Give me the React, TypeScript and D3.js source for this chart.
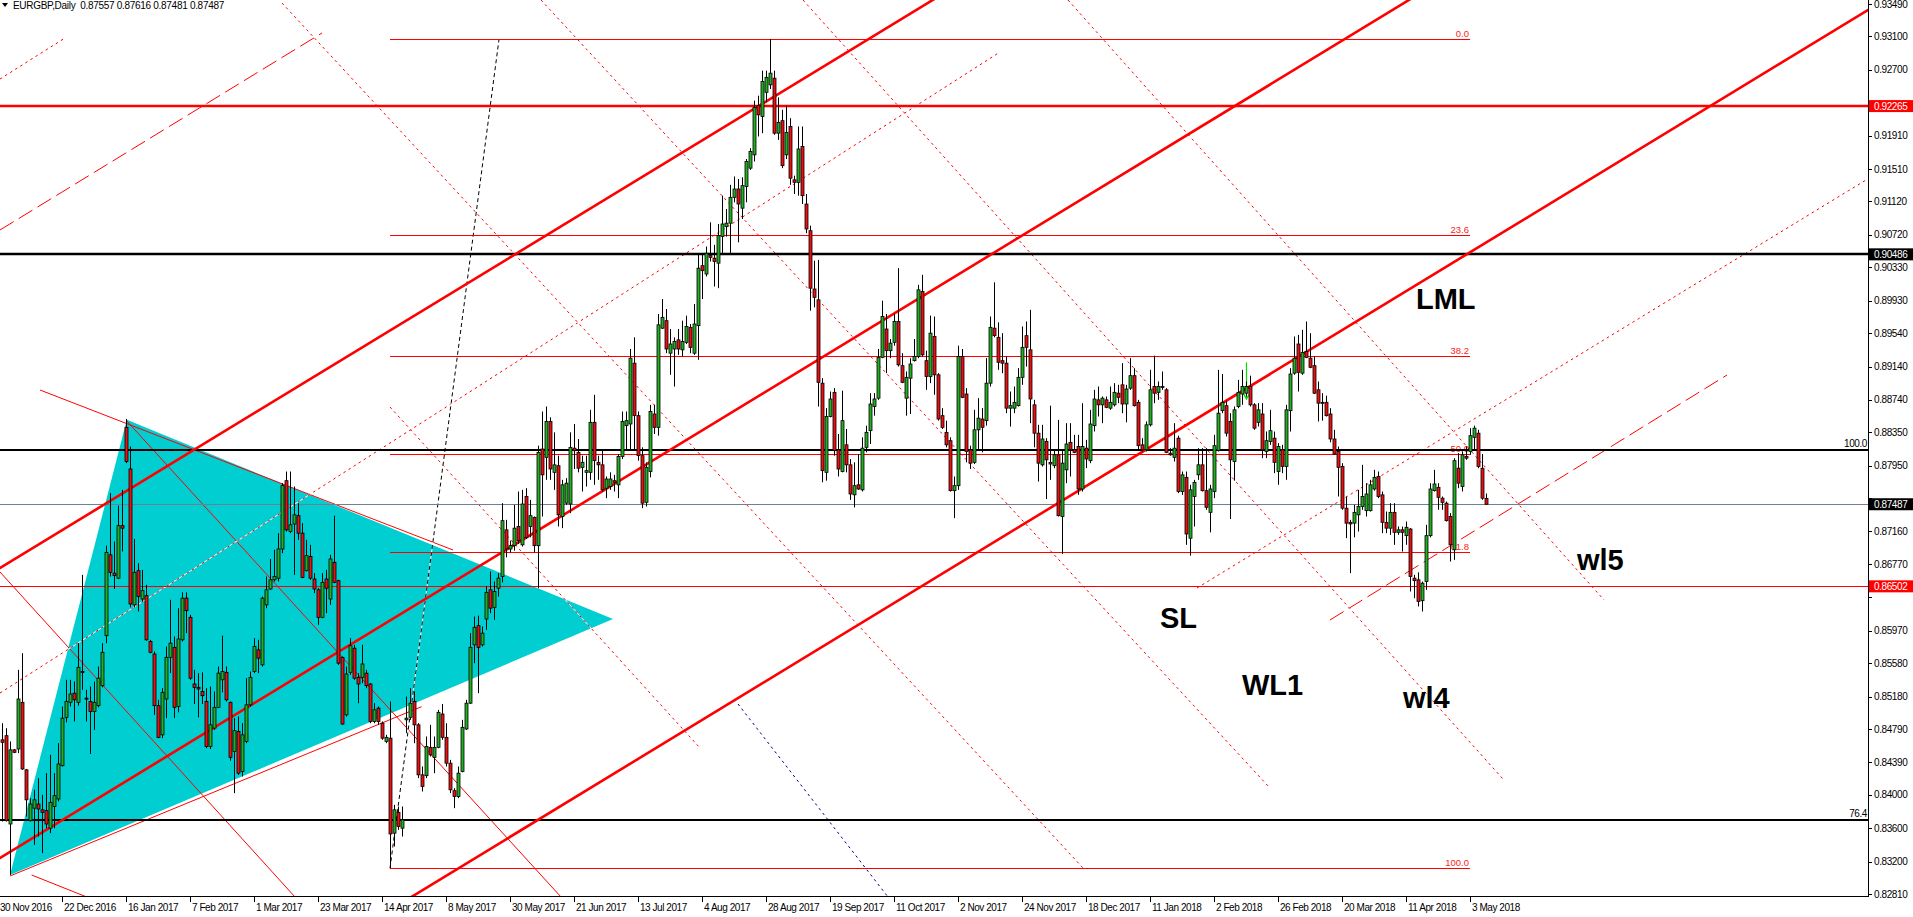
import React from 'react';
import * as d3 from 'd3';

// EURGBP daily bars, bar 0 = 30 Nov 2016 (just off the left edge), so the arrays start at bar 1
const firstBar = 1;

const opens = [
  0.8466, 0.8471, 0.8365, 0.8454, 0.8455, 0.8511, 0.8430, 0.8369, 0.8384, 0.8389,
  0.8382, 0.8381, 0.8360, 0.8386, 0.8395, 0.8435, 0.8493, 0.8511, 0.8522, 0.8511,
  0.8548, 0.8516, 0.8512, 0.8500, 0.8507, 0.8531, 0.8591, 0.8688, 0.8666, 0.8660,
  0.8723, 0.8841, 0.8791, 0.8628, 0.8669, 0.8635, 0.8639, 0.8584, 0.8569, 0.8507,
  0.8472, 0.8515, 0.8565, 0.8577, 0.8506, 0.8586, 0.8636, 0.8613, 0.8533, 0.8529,
  0.8524, 0.8512, 0.8458, 0.8480, 0.8505, 0.8538, 0.8547, 0.8511, 0.8452, 0.8476,
  0.8428, 0.8464, 0.8508, 0.8548, 0.8574, 0.8556, 0.8628, 0.8647, 0.8658, 0.8660,
  0.8695, 0.8777, 0.8716, 0.8725, 0.8735, 0.8714, 0.8669, 0.8686, 0.8659, 0.8646,
  0.8613, 0.8659, 0.8635, 0.8679, 0.8657, 0.8565, 0.8496, 0.8547, 0.8576, 0.8541,
  0.8541, 0.8546, 0.8533, 0.8488, 0.8504, 0.8486, 0.8464, 0.8468, 0.8354, 0.8379,
  0.8360, 0.8490, 0.8493, 0.8512, 0.8484, 0.8424, 0.8423, 0.8457, 0.8445, 0.8457,
  0.8497, 0.8469, 0.8438, 0.8405, 0.8398, 0.8428, 0.8479, 0.8510, 0.8580, 0.8603,
  0.8580, 0.8611, 0.8646, 0.8625, 0.8648, 0.8662, 0.8718, 0.8695, 0.8699, 0.8722,
  0.8700, 0.8758, 0.8722, 0.8733, 0.8699, 0.8815, 0.8805, 0.8848, 0.8787, 0.8795,
  0.8734, 0.8750, 0.8749, 0.8816, 0.8811, 0.8793, 0.8787, 0.8787, 0.8847, 0.8799,
  0.8796, 0.8768, 0.8770, 0.8777, 0.8772, 0.8806, 0.8843, 0.8845, 0.8918, 0.8855,
  0.8807, 0.8751, 0.8788, 0.8857, 0.8841, 0.8960, 0.8969, 0.8930, 0.8935, 0.8946,
  0.8934, 0.8943, 0.8961, 0.8930, 0.8963, 0.9035, 0.9025, 0.9047, 0.9044, 0.9038,
  0.9070, 0.9082, 0.9086, 0.9117, 0.9127, 0.9104, 0.9130, 0.9152, 0.9168, 0.9227,
  0.9214, 0.9243, 0.9252, 0.9260, 0.9194, 0.9209, 0.9168, 0.9202, 0.9138, 0.9135,
  0.9178, 0.9109, 0.9077, 0.9007, 0.8994, 0.8894, 0.8787, 0.8854, 0.8883, 0.8814,
  0.8788, 0.8820, 0.8796, 0.8760, 0.8772, 0.8766, 0.8817, 0.8837, 0.8866, 0.8876,
  0.8925, 0.8959, 0.8933, 0.8943, 0.8968, 0.8915, 0.8876, 0.8900, 0.8921, 0.8926,
  0.9004, 0.8921, 0.8902, 0.8950, 0.8904, 0.8855, 0.8835, 0.8825, 0.8765, 0.8771,
  0.8926, 0.8881, 0.8814, 0.8799, 0.8838, 0.8851, 0.8849, 0.8894, 0.8960, 0.8949,
  0.8921, 0.8918, 0.8864, 0.8864, 0.8867, 0.8901, 0.8951, 0.8934, 0.8868, 0.8834,
  0.8796, 0.8824, 0.8799, 0.8795, 0.8808, 0.8734, 0.8790, 0.8823, 0.8814, 0.8818,
  0.8767, 0.8816, 0.8801, 0.8843, 0.8874, 0.8868, 0.8874, 0.8864, 0.8868, 0.8882,
  0.8892, 0.8869, 0.8888, 0.8903, 0.8871, 0.8820, 0.8814, 0.8844, 0.8890, 0.8883,
  0.8890, 0.8886, 0.8810, 0.8805, 0.8828, 0.8764, 0.8781, 0.8708, 0.8758, 0.8784,
  0.8796, 0.8765, 0.8739, 0.8764, 0.8813, 0.8861, 0.8867, 0.8848, 0.8800, 0.8866,
  0.8881, 0.8882, 0.8890, 0.8868, 0.8847, 0.8857, 0.8812, 0.8824, 0.8828, 0.8788,
  0.8814, 0.8794, 0.8861, 0.8906, 0.8941, 0.8906, 0.8932, 0.8924, 0.8915, 0.8886,
  0.8871, 0.8871, 0.8857, 0.8827, 0.8812, 0.8794, 0.8744, 0.8727, 0.8726, 0.8736,
  0.8746, 0.8741, 0.8741, 0.8767, 0.8782, 0.8760, 0.8727, 0.8720, 0.8739, 0.8715,
  0.8718, 0.8711, 0.8719, 0.8660, 0.8658, 0.8633, 0.8656, 0.8711, 0.8765, 0.8769,
  0.8756, 0.8750, 0.8734, 0.8694, 0.8792, 0.8770, 0.8806, 0.8812, 0.8829, 0.8834,
  0.8792, 0.87557,
];

const highs = [
  0.8486, 0.8480, 0.8464, 0.8455, 0.8550, 0.8570, 0.8431, 0.8396, 0.8406, 0.8420,
  0.8400, 0.8426, 0.8448, 0.8426, 0.8462, 0.8506, 0.8538, 0.8538, 0.8536, 0.8582,
  0.8664, 0.8526, 0.8530, 0.8536, 0.8554, 0.8582, 0.8699, 0.8762, 0.8704, 0.8747,
  0.8766, 0.8851, 0.8818, 0.8707, 0.8678, 0.8670, 0.8652, 0.8586, 0.8572, 0.8514,
  0.8528, 0.8578, 0.8634, 0.8590, 0.8624, 0.8643, 0.8643, 0.8616, 0.8550, 0.8546,
  0.8547, 0.8528, 0.8530, 0.8524, 0.8554, 0.8591, 0.8554, 0.8512, 0.8492, 0.8494,
  0.8486, 0.8540, 0.8548, 0.8588, 0.8586, 0.8638, 0.8662, 0.8683, 0.8694, 0.8714,
  0.8774, 0.8788, 0.8788, 0.8770, 0.8750, 0.8726, 0.8706, 0.8700, 0.8666, 0.8648,
  0.8666, 0.8670, 0.8688, 0.8735, 0.8658, 0.8566, 0.8554, 0.8588, 0.8580, 0.8546,
  0.8580, 0.8550, 0.8534, 0.8510, 0.8506, 0.8488, 0.8472, 0.8512, 0.8388, 0.8386,
  0.8386, 0.8518, 0.8528, 0.8524, 0.8486, 0.8434, 0.8470, 0.8484, 0.8470, 0.8502,
  0.8509, 0.8486, 0.8442, 0.8408, 0.8434, 0.8490, 0.8514, 0.8594, 0.8614, 0.8615,
  0.8602, 0.8650, 0.8668, 0.8656, 0.8666, 0.8750, 0.8730, 0.8705, 0.8748, 0.8764,
  0.8766, 0.8768, 0.8754, 0.8734, 0.8819, 0.8860, 0.8866, 0.8853, 0.8835, 0.8807,
  0.8778, 0.8780, 0.8835, 0.8845, 0.8827, 0.8807, 0.8807, 0.8862, 0.8880, 0.8807,
  0.8813, 0.8782, 0.8787, 0.8784, 0.8809, 0.8860, 0.8860, 0.8935, 0.8949, 0.8860,
  0.8817, 0.8799, 0.8868, 0.8868, 0.8977, 0.8995, 0.8983, 0.8959, 0.8949, 0.8959,
  0.8969, 0.8975, 0.8965, 0.8989, 0.9050, 0.9050, 0.9058, 0.9087, 0.9060, 0.9085,
  0.9119, 0.9103, 0.9132, 0.9142, 0.9139, 0.9141, 0.9163, 0.9176, 0.9233, 0.9239,
  0.9269, 0.9269, 0.9307, 0.9269, 0.9237, 0.9222, 0.9227, 0.9212, 0.9143, 0.9202,
  0.9202, 0.9121, 0.9083, 0.9041, 0.9042, 0.8900, 0.8864, 0.8884, 0.8888, 0.8833,
  0.8885, 0.8839, 0.8803, 0.8799, 0.8809, 0.8829, 0.8843, 0.8882, 0.8882, 0.8935,
  0.8993, 0.8977, 0.8947, 0.8977, 0.9032, 0.8930, 0.8908, 0.8924, 0.8947, 0.9012,
  0.9024, 0.8933, 0.8975, 0.8974, 0.8906, 0.8864, 0.8849, 0.8829, 0.8782, 0.8939,
  0.8935, 0.8888, 0.8819, 0.8862, 0.8876, 0.8864, 0.8924, 0.8974, 0.9015, 0.8967,
  0.8954, 0.8926, 0.8884, 0.8890, 0.8912, 0.8962, 0.8968, 0.8982, 0.8874, 0.8844,
  0.8844, 0.8828, 0.8867, 0.8814, 0.8850, 0.8814, 0.8846, 0.8846, 0.8832, 0.8832,
  0.8870, 0.8826, 0.8862, 0.8886, 0.8890, 0.8878, 0.8878, 0.8890, 0.8894, 0.8892,
  0.8918, 0.8892, 0.8924, 0.8912, 0.8874, 0.8828, 0.8848, 0.8910, 0.8927, 0.8896,
  0.8908, 0.8888, 0.8816, 0.8846, 0.8831, 0.8788, 0.8788, 0.8772, 0.8778, 0.8816,
  0.8816, 0.8816, 0.8772, 0.8832, 0.8910, 0.8905, 0.8873, 0.8858, 0.8866, 0.8898,
  0.8910, 0.8896, 0.8903, 0.8870, 0.8870, 0.8870, 0.8836, 0.8862, 0.8836, 0.8822,
  0.8820, 0.8868, 0.8912, 0.8950, 0.8952, 0.8958, 0.8968, 0.8954, 0.8926, 0.8896,
  0.8882, 0.8879, 0.8864, 0.8838, 0.8818, 0.8798, 0.8758, 0.8730, 0.8748, 0.8766,
  0.8796, 0.8774, 0.8778, 0.8790, 0.8788, 0.8764, 0.8740, 0.8750, 0.8750, 0.8722,
  0.8722, 0.8728, 0.8720, 0.8664, 0.8667, 0.8656, 0.8724, 0.8774, 0.8790, 0.8774,
  0.8758, 0.8752, 0.8738, 0.8804, 0.8810, 0.8812, 0.8818, 0.8840, 0.8843, 0.8838,
  0.8809, 0.87616,
];

const lows = [
  0.8368, 0.8368, 0.8304, 0.8450, 0.8450, 0.8430, 0.8374, 0.8368, 0.8340, 0.8350,
  0.8330, 0.8360, 0.8354, 0.8360, 0.8392, 0.8434, 0.8487, 0.8506, 0.8488, 0.8507,
  0.8526, 0.8488, 0.8449, 0.8478, 0.8505, 0.8529, 0.8582, 0.8662, 0.8647, 0.8659,
  0.8692, 0.8798, 0.8625, 0.8625, 0.8620, 0.8632, 0.8585, 0.8570, 0.8496, 0.8468,
  0.8468, 0.8492, 0.8546, 0.8492, 0.8499, 0.8584, 0.8594, 0.8538, 0.8509, 0.8493,
  0.8509, 0.8456, 0.8455, 0.8478, 0.8504, 0.8523, 0.8512, 0.8441, 0.8402, 0.8424,
  0.8422, 0.8462, 0.8506, 0.8546, 0.8546, 0.8554, 0.8624, 0.8646, 0.8656, 0.8656,
  0.8690, 0.8716, 0.8714, 0.8664, 0.8706, 0.8660, 0.8668, 0.8658, 0.8642, 0.8604,
  0.8612, 0.8618, 0.8628, 0.8654, 0.8556, 0.8484, 0.8494, 0.8544, 0.8538, 0.8510,
  0.8534, 0.8528, 0.8486, 0.8486, 0.8484, 0.8466, 0.8462, 0.8312, 0.8338, 0.8358,
  0.8350, 0.8474, 0.8490, 0.8462, 0.8420, 0.8404, 0.8420, 0.8446, 0.8426, 0.8456,
  0.8466, 0.8434, 0.8402, 0.8384, 0.8396, 0.8427, 0.8478, 0.8509, 0.8558, 0.8522,
  0.8578, 0.8598, 0.8618, 0.8610, 0.8638, 0.8655, 0.8685, 0.8691, 0.8693, 0.8701,
  0.8698, 0.8707, 0.8709, 0.8691, 0.8648, 0.8734, 0.8778, 0.8778, 0.8766, 0.8722,
  0.8720, 0.8748, 0.8738, 0.8791, 0.8787, 0.8764, 0.8770, 0.8778, 0.8772, 0.8778,
  0.8764, 0.8756, 0.8766, 0.8764, 0.8756, 0.8803, 0.8815, 0.8815, 0.8813, 0.8801,
  0.8744, 0.8746, 0.8781, 0.8833, 0.8831, 0.8959, 0.8930, 0.8904, 0.8890, 0.8928,
  0.8926, 0.8941, 0.8930, 0.8928, 0.8922, 0.8995, 0.9022, 0.9040, 0.9010, 0.9008,
  0.9050, 0.9070, 0.9050, 0.9111, 0.9063, 0.9091, 0.9111, 0.9150, 0.9160, 0.9190,
  0.9194, 0.9231, 0.9247, 0.9192, 0.9186, 0.9152, 0.9163, 0.9132, 0.9121, 0.9119,
  0.9109, 0.9074, 0.8981, 0.8985, 0.8866, 0.8775, 0.8777, 0.8853, 0.8807, 0.8782,
  0.8787, 0.8787, 0.8754, 0.8745, 0.8766, 0.8764, 0.8811, 0.8821, 0.8855, 0.8874,
  0.8924, 0.8906, 0.8924, 0.8939, 0.8914, 0.8894, 0.8855, 0.8857, 0.8920, 0.8924,
  0.8926, 0.8886, 0.8894, 0.8880, 0.8849, 0.8839, 0.8817, 0.8764, 0.8732, 0.8766,
  0.8876, 0.8799, 0.8791, 0.8797, 0.8813, 0.8811, 0.8843, 0.8890, 0.8949, 0.8910,
  0.8906, 0.8858, 0.8842, 0.8858, 0.8866, 0.8892, 0.8914, 0.8846, 0.8817, 0.8776,
  0.8794, 0.8755, 0.8778, 0.8792, 0.8734, 0.8689, 0.8774, 0.8782, 0.8810, 0.8760,
  0.8764, 0.8792, 0.8798, 0.8836, 0.8854, 0.8846, 0.8864, 0.8862, 0.8866, 0.8870,
  0.8858, 0.8847, 0.8886, 0.8866, 0.8814, 0.8812, 0.8812, 0.8842, 0.8870, 0.8874,
  0.8886, 0.8810, 0.8807, 0.8800, 0.8762, 0.8760, 0.8700, 0.8687, 0.8722, 0.8778,
  0.8764, 0.8742, 0.8715, 0.8756, 0.8812, 0.8858, 0.8830, 0.8731, 0.8777, 0.8864,
  0.8868, 0.8878, 0.8866, 0.8838, 0.8842, 0.8804, 0.8804, 0.8820, 0.8786, 0.8772,
  0.8786, 0.8778, 0.8836, 0.8904, 0.8884, 0.8904, 0.8924, 0.8912, 0.8881, 0.8848,
  0.8849, 0.8854, 0.8823, 0.8808, 0.8758, 0.8742, 0.8708, 0.8666, 0.8709, 0.8716,
  0.8742, 0.8734, 0.8740, 0.8765, 0.8756, 0.8714, 0.8714, 0.8712, 0.8700, 0.8712,
  0.8692, 0.8700, 0.8644, 0.8636, 0.8626, 0.8620, 0.8646, 0.8709, 0.8764, 0.8742,
  0.8742, 0.8728, 0.8680, 0.8682, 0.8768, 0.8764, 0.8802, 0.8808, 0.8814, 0.8792,
  0.8754, 0.87481,
];

const closes = [
  0.8463, 0.8369, 0.8454, 0.8451, 0.8515, 0.8431, 0.8394, 0.8389, 0.8394, 0.8383,
  0.8379, 0.8365, 0.8391, 0.8399, 0.8437, 0.8492, 0.8512, 0.8521, 0.8514, 0.8553,
  0.8547, 0.8515, 0.8500, 0.8511, 0.8540, 0.8571, 0.8691, 0.8667, 0.8663, 0.8723,
  0.8720, 0.8800, 0.8629, 0.8667, 0.8638, 0.8645, 0.8586, 0.8571, 0.8507, 0.8469,
  0.8523, 0.8565, 0.8582, 0.8505, 0.8587, 0.8636, 0.8621, 0.8540, 0.8529, 0.8527,
  0.8519, 0.8458, 0.8484, 0.8505, 0.8546, 0.8548, 0.8514, 0.8445, 0.8477, 0.8426,
  0.8472, 0.8508, 0.8541, 0.8578, 0.8564, 0.8636, 0.8646, 0.8658, 0.8662, 0.8695,
  0.8771, 0.8718, 0.8724, 0.8736, 0.8714, 0.8661, 0.8687, 0.8660, 0.8647, 0.8613,
  0.8655, 0.8648, 0.8683, 0.8655, 0.8558, 0.8485, 0.8545, 0.8579, 0.8540, 0.8533,
  0.8557, 0.8531, 0.8488, 0.8502, 0.8488, 0.8468, 0.8469, 0.8353, 0.8382, 0.8362,
  0.8370, 0.8492, 0.8510, 0.8484, 0.8424, 0.8410, 0.8458, 0.8448, 0.8457, 0.8499,
  0.8469, 0.8438, 0.8406, 0.8398, 0.8426, 0.8481, 0.8510, 0.8577, 0.8601, 0.8577,
  0.8594, 0.8643, 0.8624, 0.8644, 0.8660, 0.8729, 0.8695, 0.8699, 0.8720, 0.8705,
  0.8749, 0.8709, 0.8735, 0.8699, 0.8811, 0.8784, 0.8848, 0.8791, 0.8796, 0.8736,
  0.8772, 0.8774, 0.8817, 0.8813, 0.8792, 0.8799, 0.8789, 0.8847, 0.8801, 0.8796,
  0.8766, 0.8779, 0.8779, 0.8775, 0.8806, 0.8848, 0.8849, 0.8924, 0.8855, 0.8807,
  0.8750, 0.8793, 0.8860, 0.8841, 0.8964, 0.8973, 0.8935, 0.8941, 0.8944, 0.8935,
  0.8944, 0.8962, 0.8937, 0.8965, 0.9032, 0.9029, 0.9050, 0.9045, 0.9040, 0.9071,
  0.9085, 0.9086, 0.9117, 0.9127, 0.9109, 0.9131, 0.9160, 0.9172, 0.9225, 0.9216,
  0.9256, 0.9261, 0.9266, 0.9194, 0.9207, 0.9155, 0.9195, 0.9140, 0.9135, 0.9175,
  0.9119, 0.9079, 0.9008, 0.8997, 0.8895, 0.8789, 0.8854, 0.8875, 0.8813, 0.8791,
  0.8849, 0.8796, 0.8761, 0.8771, 0.8767, 0.8816, 0.8835, 0.8869, 0.8875, 0.8925,
  0.8974, 0.8933, 0.8942, 0.8968, 0.8916, 0.8895, 0.8901, 0.8917, 0.8926, 0.9006,
  0.8928, 0.8902, 0.8954, 0.8904, 0.8851, 0.8841, 0.8820, 0.8765, 0.8771, 0.8926,
  0.8877, 0.8812, 0.8798, 0.8838, 0.8852, 0.8841, 0.8894, 0.8961, 0.8951, 0.8919,
  0.8918, 0.8864, 0.8867, 0.8871, 0.8901, 0.8937, 0.8937, 0.8875, 0.8834, 0.8798,
  0.8827, 0.8802, 0.8797, 0.8808, 0.8735, 0.8798, 0.8821, 0.8814, 0.8811, 0.8767,
  0.8818, 0.8803, 0.8845, 0.8875, 0.8868, 0.8876, 0.8865, 0.8871, 0.8883, 0.8877,
  0.8869, 0.8887, 0.8903, 0.8867, 0.8819, 0.8814, 0.8844, 0.8886, 0.8882, 0.8890,
  0.8889, 0.8811, 0.8808, 0.8816, 0.8764, 0.8784, 0.8713, 0.8766, 0.8775, 0.8796,
  0.8765, 0.8745, 0.8767, 0.8819, 0.8858, 0.8871, 0.8834, 0.8802, 0.8862, 0.8883,
  0.8890, 0.8890, 0.8868, 0.8840, 0.8862, 0.8814, 0.8825, 0.8837, 0.8799, 0.8818,
  0.8794, 0.8862, 0.8905, 0.8924, 0.8907, 0.8931, 0.8925, 0.8913, 0.8882, 0.8870,
  0.8870, 0.8855, 0.8827, 0.8809, 0.8793, 0.8744, 0.8726, 0.8725, 0.8739, 0.8746,
  0.8758, 0.8761, 0.8772, 0.8781, 0.8758, 0.8727, 0.8720, 0.8739, 0.8715, 0.8718,
  0.8715, 0.8721, 0.8662, 0.8657, 0.8632, 0.8654, 0.8711, 0.8767, 0.8773, 0.8757,
  0.8751, 0.8729, 0.8700, 0.8801, 0.8774, 0.8808, 0.8804, 0.8831, 0.8840, 0.8794,
  0.8756, 0.87487,
];

const priceTicks = [
  0.9349, 0.931, 0.927, 0.9231, 0.9191, 0.9151, 0.9112, 0.9072, 0.9033, 0.8993,
  0.8954, 0.8914, 0.8874, 0.8835, 0.8795, 0.8756, 0.8716, 0.8677, 0.8637, 0.8597,
  0.8558, 0.8518, 0.8479, 0.8439, 0.84, 0.836, 0.832, 0.8281,
];

const dateLabels = [
  '30 Nov 2016', '22 Dec 2016', '16 Jan 2017', '7 Feb 2017', '1 Mar 2017', '23 Mar 2017',
  '14 Apr 2017', '8 May 2017', '30 May 2017', '21 Jun 2017', '13 Jul 2017', '4 Aug 2017',
  '28 Aug 2017', '19 Sep 2017', '11 Oct 2017', '2 Nov 2017', '24 Nov 2017', '18 Dec 2017',
  '11 Jan 2018', '2 Feb 2018', '26 Feb 2018', '20 Mar 2018', '11 Apr 2018', '3 May 2018',
];
const dateStep = 16;

// horizontal levels
const resistance = 0.92265;
const support = 0.86502;
const blackLevel = 0.90486;
const bid = 0.87487;
const blackFibPrices = [0.88142, 0.83698];
const blackFibNames = ['100.0', '76.4'];

// red fibo from the April 2017 low to the August 2017 high
const fibBars = [98, 368];
const fibPrices = [0.93066, 0.83118];
const fibLevels = [0, 23.6, 38.2, 50, 61.8, 100];
const fibDiagonal = [98, 0.83118, 125.25, 0.93066];

// equidistant channel: middle line anchors, then shifts for the 3 lines
const channelBars = [0.5, 340];
const channelMid = [0.83242, 0.93166];
const channelShifts = [0.0348, 0, -0.03474];

// cyan triangle
const triangleBars = [3, 32.2, 153.75];
const trianglePrices = [0.83038, 0.885, 0.8611];

// segments as [bar0, price0, bar1, price1]
const solidLines = [
  [0.5, 0.86674, 74.25, 0.82774],
  [32.2, 0.88486, 140.75, 0.82774],
  [10.5, 0.88858, 113.75, 0.86938],
  [3, 0.83026, 105.9, 0.85058],
  [8.4, 0.83038, 22.2, 0.82774],
];
const dottedLines = [
  [0.5, 0.85222, 250.5, 0.92914],
  [0.5, 0.9259, 16.75, 0.93082],
  [299.75, 0.86482, 467, 0.91378],
  [98, 0.88654, 175.5, 0.84562],
  [71, 0.93502, 271.25, 0.83122],
  [135.75, 0.93538, 317.75, 0.84094],
  [201.25, 0.93538, 376.25, 0.8419],
  [267.5, 0.93538, 401.5, 0.86338],
];
const dashedLines = [
  [0.5, 0.90778, 81, 0.93142],
  [333, 0.86098, 432.25, 0.89038],
];
const blueLine = [185, 0.8509, 222.5, 0.82774];

const waveNames = ['LML', 'SL', 'WL1', 'wl4', 'wl5'];
const waveBars = [354.5, 290.5, 311, 351.25, 394.75];
const wavePrices = [0.8983, 0.86002, 0.85198, 0.85042, 0.86698];

const arrowBar = 312;
const arrowPrices = [0.8919, 0.8874];

export default function App() {
  const width = 1913;
  const height = 917;
  const right = 1868;
  const bottom = 897;

  const x = d3.scaleLinear().domain([0, 467.5]).range([-2, right]);
  const y = d3.scaleLinear().domain([0.82774, 0.93538]).range([bottom, 0]);
  const seg = (s: number[]) => d3.line()([[x(s[0]), y(s[1])], [x(s[2]), y(s[3])]]) as string;
  const hy = (p: number) => Math.round(y(p)) + 0.5;

  const slope = (channelMid[1] - channelMid[0]) / (channelBars[1] - channelBars[0]);
  const channelAt = (b: number, shift: number) => channelMid[0] + (b - channelBars[0]) * slope + shift;

  const fibX0 = x(fibBars[0]);
  const fibX1 = x(fibBars[1]);
  const last = closes.length - 1;
  const title = `EURGBP,Daily  ${opens[last].toFixed(5)} ${highs[last].toFixed(5)} ${lows[last].toFixed(5)} ${closes[last].toFixed(5)}`;

  const font = "'Liberation Sans', Arial, sans-serif";
  const ax = Math.round(x(arrowBar)) + 0.5;

  const boxes: [number, string][] = [
    [resistance, '#ff0000'],
    [blackLevel, '#000'],
    [bid, '#000'],
    [support, '#ff0000'],
  ];
  // tick labels that sit under a price box are covered by it
  const visibleTicks = priceTicks.filter((p) => boxes.every(([b]) => Math.abs(y(p) - y(b)) > 11));

  return (
    <svg
      width={width}
      height={height}
      style={{ position: 'fixed', left: 0, top: 0, background: '#fff' }}
      fontFamily={font}
    >
      <rect x={0} y={0} width={width} height={height} fill="#fff" />
      <defs>
        <clipPath id="plot">
          <rect x={0} y={0} width={right} height={bottom} />
        </clipPath>
      </defs>

      <g clipPath="url(#plot)">
        <polygon
          points={triangleBars.map((b, i) => `${x(b)},${y(trianglePrices[i])}`).join(' ')}
          fill="#00ced1"
        />

        {solidLines.map((s, i) => (
          <path key={'s' + i} d={seg(s)} stroke="#ff0000" strokeWidth={1} fill="none" />
        ))}

        {dottedLines.map((s, i) => (
          <g key={'d' + i}>
            <path d={seg(s)} stroke="#fff" strokeWidth={1} fill="none" />
            <path d={seg(s)} stroke="#ff0000" strokeWidth={1} strokeDasharray="2.5,3.5" fill="none" />
          </g>
        ))}
        {dashedLines.map((s, i) => (
          <g key={'ds' + i}>
            <path d={seg(s)} stroke="#fff" strokeWidth={1} fill="none" />
            <path d={seg(s)} stroke="#ff0000" strokeWidth={1} strokeDasharray="16,6" fill="none" />
          </g>
        ))}
        <path d={seg(blueLine)} stroke="#000080" strokeWidth={1} strokeDasharray="2.5,3.5" fill="none" />
        <path d={seg(fibDiagonal)} stroke="#fff" strokeWidth={1} fill="none" />
        <path d={seg(fibDiagonal)} stroke="#000" strokeWidth={1} strokeDasharray="4,3" fill="none" />

        {/* red fibo levels */}
        {fibLevels.map((lv) => {
          const p = fibPrices[1] + (fibPrices[0] - fibPrices[1]) * (1 - lv / 100);
          const yy = hy(p);
          return (
            <g key={'f' + lv}>
              <line x1={fibX0} x2={fibX1} y1={yy} y2={yy} stroke="#ff0000" strokeWidth={1} />
              <text x={fibX1 - 1} y={yy - 3} fontSize={9.5} fill="#ff2020" textAnchor="end">
                {lv.toFixed(1)}
              </text>
            </g>
          );
        })}

        {/* black fibo levels across the chart */}
        {blackFibPrices.map((p, i) => (
          <g key={'bf' + i}>
            <line x1={0} x2={right} y1={Math.round(y(p))} y2={Math.round(y(p))} stroke="#000" strokeWidth={2.2} />
            <text x={right - 1} y={Math.round(y(p)) - 3} fontSize={10} letterSpacing={-0.4} textAnchor="end">
              {blackFibNames[i]}
            </text>
          </g>
        ))}

        <line x1={0} x2={right} y1={Math.round(y(resistance))} y2={Math.round(y(resistance))} stroke="#ff0000" strokeWidth={2.4} />
        <line x1={0} x2={right} y1={hy(support)} y2={hy(support)} stroke="#ff0000" strokeWidth={1} />
        <line x1={0} x2={right} y1={Math.round(y(blackLevel))} y2={Math.round(y(blackLevel))} stroke="#000" strokeWidth={2.4} />
        <line x1={0} x2={right} y1={hy(bid)} y2={hy(bid)} stroke="#708090" strokeWidth={1} />

        {/* channel */}
        {channelShifts.map((sh, i) => (
          <path
            key={'c' + i}
            d={seg([-5, channelAt(-5, sh), 470, channelAt(470, sh)])}
            stroke="#ff0000"
            strokeWidth={2.6}
            fill="none"
          />
        ))}

        {waveNames.map((n, i) => (
          <text key={n} x={x(waveBars[i])} y={y(wavePrices[i])} fontSize={29} fontWeight="bold" fill="#000">
            {n}
          </text>
        ))}

        <line x1={ax} x2={ax} y1={y(arrowPrices[0])} y2={y(arrowPrices[1])} stroke="#00e000" strokeWidth={1.2} />
        <path
          d={`M${ax - 3},${y(arrowPrices[1]) - 6} L${ax},${y(arrowPrices[1]) - 1} L${ax + 3},${y(arrowPrices[1]) - 6}`}
          stroke="#00e000"
          strokeWidth={1.2}
          fill="none"
        />

        {/* candles */}
        {closes.map((c, k) => {
          const bar = k + firstBar;
          const cx = Math.round(x(bar)) + 0.5;
          const o = opens[k];
          const up = c >= o;
          const top = y(Math.max(o, c));
          const bot = y(Math.min(o, c));
          return (
            <g key={'k' + bar}>
              <line x1={cx} x2={cx} y1={y(highs[k])} y2={y(lows[k])} stroke="#000" strokeWidth={1} />
              <rect
                x={cx - 1.5}
                y={top}
                width={3}
                height={Math.max(1, bot - top)}
                fill={up ? '#22b022' : '#ec1010'}
                stroke="#000"
                strokeWidth={0.8}
              />
            </g>
          );
        })}
      </g>

      {/* title */}
      <path d="M2,3 L8,3 L5,7 Z" fill="#000" />
      <text x={13} y={9} fontSize={10} letterSpacing={-0.3} style={{ whiteSpace: 'pre' }}>
        {title}
      </text>

      {/* axes */}
      <line x1={right + 0.5} x2={right + 0.5} y1={0} y2={bottom} stroke="#000" strokeWidth={1} />
      <line x1={0} x2={right + 1} y1={bottom - 0.5} y2={bottom - 0.5} stroke="#000" strokeWidth={1} />

      {priceTicks.map((p) => (
        <line key={'tl' + p} x1={right} x2={right + 4} y1={hy(p)} y2={hy(p)} stroke="#000" />
      ))}
      {visibleTicks.map((p) => (
        <text key={'t' + p} x={1874} y={y(p)} dy="0.35em" fontSize={10} letterSpacing={-0.4}>
          {p.toFixed(5)}
        </text>
      ))}

      {boxes.map(([p, col]) => (
        <g key={'b' + p}>
          <rect x={right + 1} y={y(p) - 6} width={44} height={12} fill={col} />
          <text x={1874} y={y(p)} dy="0.35em" fontSize={10} letterSpacing={-0.4} fill="#fff">
            {p.toFixed(5)}
          </text>
        </g>
      ))}

      {dateLabels.map((d, i) => {
        const tx = Math.round(x(i * dateStep)) + 0.5;
        return (
          <g key={d}>
            <line x1={tx} x2={tx} y1={bottom} y2={bottom + 5} stroke="#000" />
            <text x={tx + 1.5} y={911} fontSize={10} letterSpacing={-0.45}>
              {d}
            </text>
          </g>
        );
      })}
    </svg>
  );
}
